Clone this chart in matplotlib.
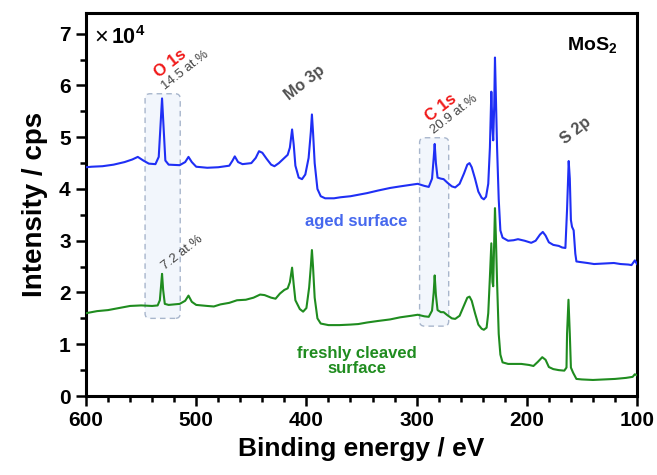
import matplotlib
matplotlib.use("Agg")
import matplotlib.pyplot as plt
from matplotlib.patches import FancyBboxPatch
from matplotlib.ticker import MultipleLocator

plt.rcParams['font.family'] = ['Liberation Sans', 'DejaVu Sans']
plt.rcParams['mathtext.fontset'] = 'custom'
plt.rcParams['mathtext.rm'] = 'Liberation Sans'
plt.rcParams['mathtext.bf'] = 'Liberation Sans:bold'

# aged surface spectrum (binding energy eV, intensity x1e4 cps)
aged_ev = [600, 595, 585, 575, 565, 558, 553, 548, 543, 537, 534, 532.5, 531, 529.5, 528,
           525, 515, 510, 507, 504, 500, 490, 480, 470, 467, 465, 462, 458, 450, 446,
           443, 440, 436, 432, 429, 425, 420, 417, 415, 413, 411.5, 410, 407, 404, 401,
           398, 396, 395, 394, 392.5, 390, 387, 383, 375, 369, 360, 350, 345, 335, 324,
           315, 305, 299, 293, 289, 286, 284.5, 283.6, 282.5, 281, 278, 275.5, 272, 268,
           265, 261, 257, 254, 252, 250, 247, 244, 241, 239, 237, 235, 233.5, 232.2,
           231.2, 230.5, 229.6, 228.9, 228.1, 227, 225.5, 224, 222, 217, 212, 208, 202,
           196, 192, 188, 185.5, 183, 180, 176, 171, 168, 165, 163.5, 162, 161, 160,
           159, 157.5, 156, 155, 152, 145, 139, 130, 121, 115, 108, 105, 102, 100]
aged_int = [4.42, 4.43, 4.44, 4.47, 4.52, 4.57, 4.62, 4.55, 4.49, 4.48, 4.62, 5.2, 5.75, 5.15, 4.55,
            4.47, 4.46, 4.52, 4.62, 4.52, 4.43, 4.41, 4.42, 4.45, 4.55, 4.63, 4.52, 4.48, 4.5, 4.6,
            4.73, 4.7, 4.58, 4.47, 4.44, 4.5, 4.6, 4.66, 4.8, 5.15, 4.85, 4.45, 4.22, 4.19, 4.28,
            4.6, 5.1, 5.44, 5.1, 4.5, 4.0, 3.86, 3.82, 3.82, 3.84, 3.86, 3.9, 3.92, 3.97, 4.02,
            4.05, 4.08, 4.1, 4.06, 4.04, 4.2, 4.6, 4.87, 4.5, 4.22, 4.2, 4.19, 4.12, 4.05,
            4.03, 4.1, 4.3, 4.47, 4.5, 4.42, 4.2, 3.95, 3.83, 3.8, 3.85, 4.1, 4.8, 5.88,
            5.2, 4.94, 5.6, 6.54, 5.8, 4.8, 3.8, 3.2, 3.06, 3.0, 3.01, 3.03, 3.0,
            2.96, 3.0, 3.12, 3.17, 3.1, 2.97, 2.92, 2.9, 2.87, 2.86, 3.6, 4.54, 4.2, 3.4,
            3.27, 3.2, 2.75, 2.6, 2.59, 2.57, 2.55, 2.56, 2.57, 2.55, 2.54, 2.53, 2.62, 2.55]

# freshly cleaved surface spectrum
fresh_ev = [600, 590, 580, 570, 560, 550, 540, 535, 533, 532, 531, 530, 528.5, 525, 515,
            510, 507, 504, 500, 490, 484, 478, 470, 463, 455, 448, 442, 438, 432, 428,
            424, 420, 417, 415, 413, 411.5, 410, 406, 403, 400, 397.5, 396, 395, 394, 392.5,
            390, 387, 380, 370, 360, 353, 345, 335, 324, 315, 305, 299, 293, 289, 286,
            284.5, 283.6, 282.5, 281, 278, 275.5, 272, 268, 265, 261, 257, 254, 252, 250,
            247, 244, 241, 239, 236.5, 235, 233.5, 232.2, 231.2, 230.5, 229.6, 228.9, 228.1,
            227, 225.5, 224, 222, 217, 210, 205, 198, 194, 190, 186, 183, 180, 176, 171,
            166, 164, 163.5, 162.2, 161, 160, 158, 155, 150, 140, 130, 120, 110, 104, 102, 100]
fresh_int = [1.6, 1.64, 1.66, 1.7, 1.74, 1.75, 1.74, 1.75, 1.85, 2.1, 2.36, 2.05, 1.78, 1.76, 1.78,
             1.84, 1.94, 1.82, 1.76, 1.74, 1.73, 1.77, 1.8, 1.85, 1.86, 1.9, 1.96, 1.95, 1.9, 1.88,
             1.98, 2.05, 2.08, 2.2, 2.48, 2.15, 1.85, 1.68, 1.63, 1.7, 2.1, 2.5, 2.82, 2.5, 1.9,
             1.5, 1.4, 1.37, 1.37, 1.38, 1.39, 1.42, 1.45, 1.48, 1.52, 1.55, 1.57, 1.54, 1.53, 1.65,
             2.0, 2.33, 1.95, 1.66, 1.62, 1.62, 1.56, 1.5, 1.49, 1.55, 1.75, 1.9, 1.92, 1.84,
             1.6, 1.38, 1.3, 1.28, 1.32, 1.6, 2.3, 2.95, 2.2, 2.12, 3.0, 3.63, 3.1,
             2.2, 1.2, 0.8, 0.65, 0.62, 0.62, 0.62, 0.6, 0.58, 0.66, 0.75, 0.7, 0.56, 0.52, 0.5,
             0.49, 0.55, 1.2, 1.86, 1.2, 0.55, 0.45, 0.33, 0.32, 0.31, 0.32, 0.33, 0.35, 0.37, 0.42, 0.4]

# highlighted regions (eV range, intensity range)
o1s_box = [514.5, 546.4, 1.50, 5.84]
c1s_box = [270.9, 297.3, 1.35, 4.99]

fig = plt.figure(figsize=(6.57, 4.75), dpi=100)
ax = fig.add_axes([0.1309, 0.1663, 0.8387, 0.8063])

for b in (o1s_box, c1s_box):
    p = FancyBboxPatch((b[0], b[2]), b[1] - b[0], b[3] - b[2],
                       boxstyle="round,pad=0,rounding_size=4.5", mutation_aspect=0.021,
                       facecolor="#f2f6fc", edgecolor="#a8b6cc", linestyle=(0, (4, 3)),
                       linewidth=1.0, zorder=1)
    ax.add_patch(p)

ax.plot(aged_ev, aged_int, color="#1f2ff5", lw=1.5, zorder=3)
ax.plot(fresh_ev, fresh_int, color="#1f8c1f", lw=1.5, zorder=3)

ax.set_xlim(600, 100)
ax.set_ylim(0, 7.4)
ax.xaxis.set_major_locator(MultipleLocator(100))
ax.xaxis.set_minor_locator(MultipleLocator(20))
ax.yaxis.set_major_locator(MultipleLocator(1))
ax.yaxis.set_minor_locator(MultipleLocator(0.5))
ax.tick_params(which='major', direction='out', length=7, width=1.8, labelsize=15, pad=4)
ax.tick_params(which='minor', direction='out', length=4.5, width=1.8)
for lab in ax.get_xticklabels() + ax.get_yticklabels():
    lab.set_fontweight('bold')
for s in ax.spines.values():
    s.set_linewidth(2.2)

ax.set_xlabel('Binding energy / eV', fontsize=19, fontweight='bold', labelpad=5)
ax.set_ylabel('Intensity / cps', fontsize=20, fontweight='bold', labelpad=8)

ax.text(592, 6.92, '\u00d7', fontsize=17, ha='left', va='center')
ax.text(577, 6.92, '10$^{\\mathbf{4}}$', fontsize=15.5, fontweight='bold', ha='left', va='center')
ax.text(140.9, 6.77, 'MoS$_{\\mathbf{2}}$', fontsize=14, fontweight='bold', ha='center', va='center')

rot = dict(rotation=38, rotation_mode='anchor', ha='center', va='center')
ax.text(523.6, 6.42, 'O 1s', color='#f01818', fontsize=12, fontweight='bold', **rot)
ax.text(510.3, 6.29, '14.5 at.%', color='#444444', fontsize=9.5, **rot)
ax.text(512.3, 2.76, '7.2 at.%', color='#444444', fontsize=9.5, **rot)
ax.text(401.8, 6.05, 'Mo 3p', color='#505050', fontsize=11.5, fontweight='bold', **rot)
ax.text(278.2, 5.57, 'C 1s', color='#f01818', fontsize=12, fontweight='bold', **rot)
ax.text(265.5, 5.44, '20.9 at.%', color='#444444', fontsize=9.5, **rot)
ax.text(155.5, 5.13, 'S 2p', color='#505050', fontsize=11.5, fontweight='bold', **rot)

ax.text(354.5, 3.37, 'aged surface', color='#4668ee', fontsize=12, fontweight='bold',
        ha='center', va='center')
ax.text(354.5, 0.67, 'freshly cleaved\nsurface', color='#1f8c1f', fontsize=12,
        fontweight='bold', ha='center', va='center', linespacing=1.0)

fig.savefig('out.png', dpi=100)
